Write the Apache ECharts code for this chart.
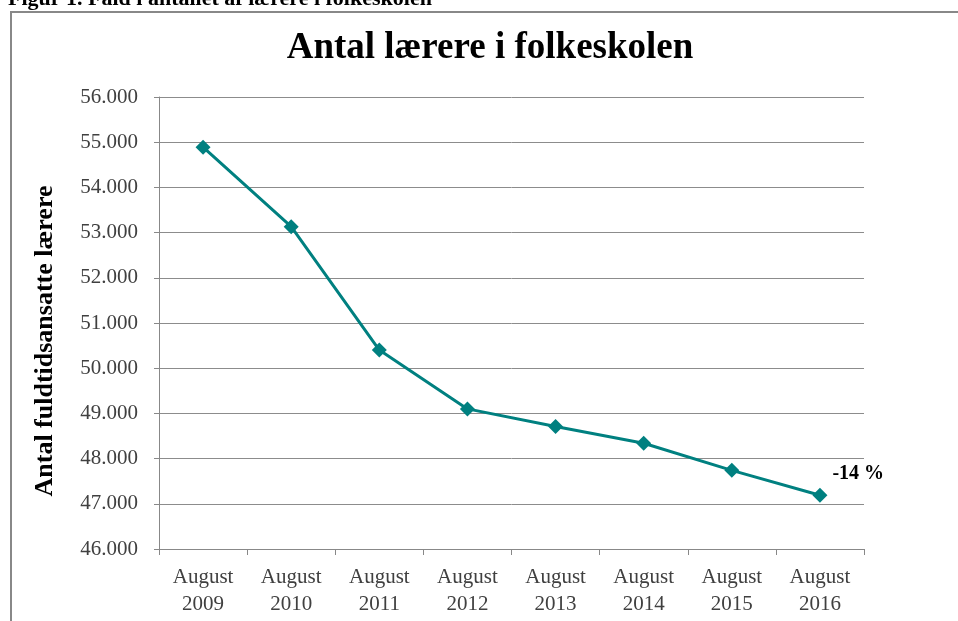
<!DOCTYPE html>
<html>
<head>
<meta charset="utf-8">
<script src="https://cdn.jsdelivr.net/npm/echarts@6/dist/echarts.min.js"></script>
<style>
  html, body { margin: 0; padding: 0; background: #fff; }
  #chart { width: 958px; height: 621px; }
</style>
</head>
<body>
<div id="chart"></div>
<script>
var years = ['August\n2009', 'August\n2010', 'August\n2011', 'August\n2012',
             'August\n2013', 'August\n2014', 'August\n2015', 'August\n2016'];
var teachers = [54890, 53130, 50400, 49100, 48710, 48340, 47740, 47190];
var changeLabel = '-14 %';

var serif = '"Liberation Serif", "DejaVu Serif", serif';
var chart = echarts.init(document.getElementById('chart'));

chart.setOption({
  animation: false,
  textStyle: { fontFamily: serif },
  grid: { left: 159, right: 94, top: 97, bottom: 72, containLabel: false },
  graphic: [
    {
      type: 'rect',
      shape: { x: 11, y: 12, width: 980, height: 640 },
      style: { fill: 'none', stroke: '#888', lineWidth: 2 },
      silent: true
    },
    {
      type: 'text',
      left: 8, top: -12,
      style: { text: 'Figur 1. Fald i antallet af lærere i folkeskolen', font: 'bold 22px ' + serif, fill: '#000' }
    },
    {
      type: 'text',
      x: 490, y: 48,
      style: { text: 'Antal lærere i folkeskolen', font: 'bold 37px ' + serif, fill: '#000',
               align: 'center', verticalAlign: 'middle' }
    },
    {
      type: 'text',
      x: 45, y: 341, rotation: Math.PI / 2,
      style: { text: 'Antal fuldtidsansatte lærere', font: 'bold 26px ' + serif, fill: '#000',
               align: 'center', verticalAlign: 'middle' }
    }
  ],
  xAxis: {
    type: 'category',
    data: years,
    boundaryGap: true,
    axisLine: { lineStyle: { color: '#888', width: 1 } },
    axisTick: { show: true, length: 6, lineStyle: { color: '#888' } },
    axisLabel: { color: '#404040', fontSize: 21, lineHeight: 27, margin: 15, interval: 0 }
  },
  yAxis: {
    type: 'value',
    min: 46000,
    max: 56000,
    interval: 1000,
    axisLine: { show: true, lineStyle: { color: '#888', width: 1 } },
    axisTick: { show: true, length: 5, lineStyle: { color: '#888' } },
    splitLine: { lineStyle: { color: '#8c8c8c', width: 1 } },
    axisLabel: {
      color: '#404040', fontSize: 21, margin: 21,
      formatter: function (v) { return (v / 1000).toFixed(3); }
    }
  },
  series: [{
    type: 'line',
    data: teachers,
    symbol: 'diamond',
    symbolSize: 15,
    lineStyle: { color: '#008080', width: 3 },
    itemStyle: { color: '#008080' },
    label: {
      show: true,
      position: 'right',
      offset: [0, -21],
      color: '#000',
      fontWeight: 'bold',
      fontSize: 20,
      formatter: function (p) {
        return p.dataIndex === teachers.length - 1 ? changeLabel : '';
      }
    }
  }]
});
</script>
</body>
</html>
